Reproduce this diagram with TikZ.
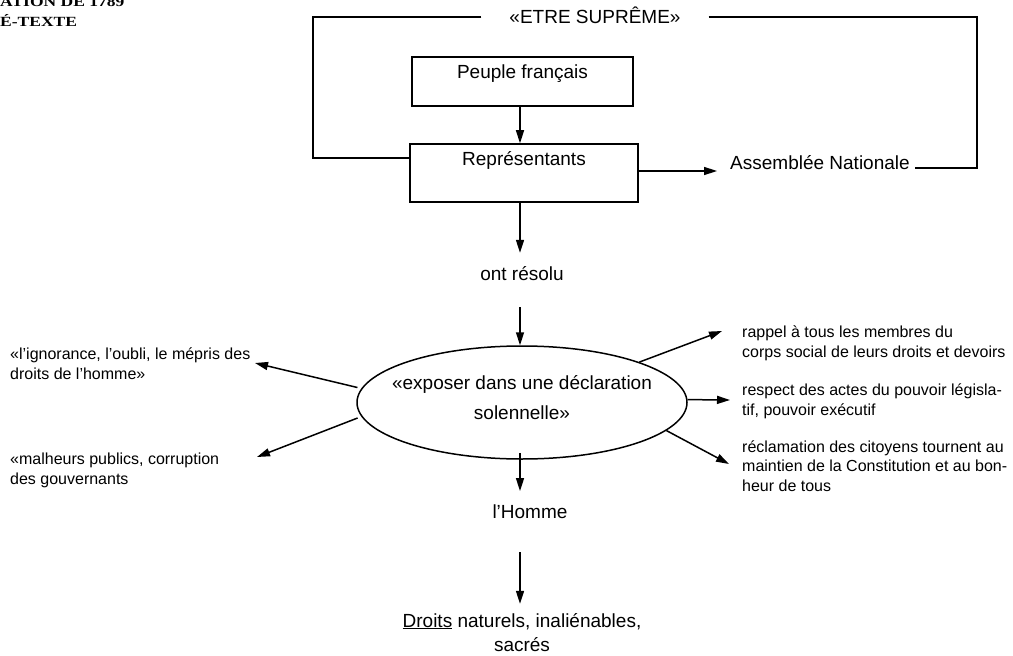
\documentclass[tikz,border=0pt]{standalone}
\usepackage{fontspec}
\setmainfont{Liberation Sans}
\newfontfamily\headfont{Liberation Serif}[FakeStretch=1.25]
\usetikzlibrary{arrows.meta,shapes.geometric}

\begin{document}
\begin{tikzpicture}[x=1bp,y=-1bp,
  main/.style={font=\fontsize{19bp}{25bp}\selectfont, inner sep=0},
  small/.style={font=\fontsize{16bp}{19.3bp}\selectfont, inner sep=0, align=left},
  head/.style={font=\headfont\bfseries\fontsize{14bp}{16bp}\selectfont, inner sep=0, anchor=base west},
  frame/.style={draw, line width=1.5bp},
  link/.style={line width=1.5bp},
  arr/.style={link, -{Triangle[length=13bp,width=8bp]}},
]
\useasboundingbox (0,0) rectangle (1013,656);

% running header (its first line runs off the top of the page)
\node[head] (hd1) at (0,7) {ATION DE 1789};
\node[head] (hd2) at (0,27) {É-TEXTE};

% top: supreme being and the two boxes
\node[main, anchor=base, inner xsep=28bp] (etre) at (595,24) {«ETRE SUPRÊME»};
\node[frame, minimum width=221bp, minimum height=49bp] (peuple) at (522.5,81.5) {};
\node[main, anchor=base] (peupletxt) at (522.5,79) {Peuple français};
\node[frame, minimum width=228bp, minimum height=58bp] (repr) at (524,173) {};
\node[main, anchor=base] (reprtxt) at (524,166) {Représentants};
\node[main, anchor=base west, inner xsep=5bp] (an) at (725,170) {Assemblée Nationale};

% helper coordinates
\coordinate (ax) at (520,0);
\coordinate (ay) at (0,171);
\coordinate (tl) at (313,17);
\coordinate (lc) at (313,158);
\coordinate (tr) at (977,17);
\coordinate (rc) at (977,168);

% frame lines from the supreme being
\draw[link] (tl -| etre.west) -- (tl) -- (lc) -- (lc -| repr.west);
\draw[link] (tr -| etre.east) -- (tr) -- (rc) -- (rc -| an.east);

\draw[arr] (peuple.south -| ax) -- (repr.north -| ax);
\draw[arr, shorten >=8bp] (repr.east |- ay) -- (an.west |- ay);

% resolution
\node[main, anchor=base] (resolu) at (522,280) {ont résolu};
\draw[arr, shorten >=13bp] (repr.south -| ax) -- (resolu.north -| ax);

\node[frame, ellipse, minimum width=330bp, minimum height=113bp, inner sep=0] (expo) at (522,402.5) {};
\node[main, font=\fontsize{19bp}{30bp}\selectfont, align=center] (expotxt) at (522,398) {«exposer dans une déclaration\\solennelle»};
\draw[arr, shorten <=27bp] (resolu.south -| ax) -- (expo.north -| ax);

% side texts (base = baseline of the last line)
\node[small, anchor=base west] (lt1) at (10,379) {«l’ignorance, l’oubli, le mépris des\\droits de l’homme»};
\node[small, anchor=base west] (lt2) at (10,484) {«malheurs publics, corruption\\des gouvernants};
\node[small, anchor=base west] (rt1) at (742,357) {rappel à tous les membres du\\corps social de leurs droits et devoirs};
\node[small, anchor=base west] (rt2) at (742,415) {respect des actes du pouvoir législa-\\tif, pouvoir exécutif};
\node[small, anchor=base west] (rt3) at (742,491) {réclamation des citoyens tournent au\\maintien de la Constitution et au bon-\\heur de tous};

\coordinate (tipL1) at (255,363);
\coordinate (tipL2) at (257,457);
\coordinate (tipR1) at (722,331);
\coordinate (tipR2) at (730,400);
\coordinate (tipR3) at (729,464);

\draw[arr, shorten <=4bp] (expo.175) -- (tipL1);
\draw[arr, shorten <=4bp] (expo.185) -- (tipL2);
\draw[arr] (expo.19) -- (tipR1);
\draw[arr] (expo.1) -- (tipR2);
\draw[arr] (expo.-11.5) -- (tipR3);

% man and his rights
\node[main, anchor=base] (homme) at (530,518) {l’Homme};
\node[main, font=\fontsize{19bp}{24bp}\selectfont, align=center, anchor=base] (droits) at (522,651) {\underline{Droits} naturels, inaliénables,\\sacrés};
\draw[arr, shorten <=-7bp, shorten >=13bp] (expo.south -| ax) -- (homme.north -| ax);
\draw[arr, shorten <=34bp, shorten >=9bp] (homme.south -| ax) -- (droits.north -| ax);
\end{tikzpicture}
\end{document}
